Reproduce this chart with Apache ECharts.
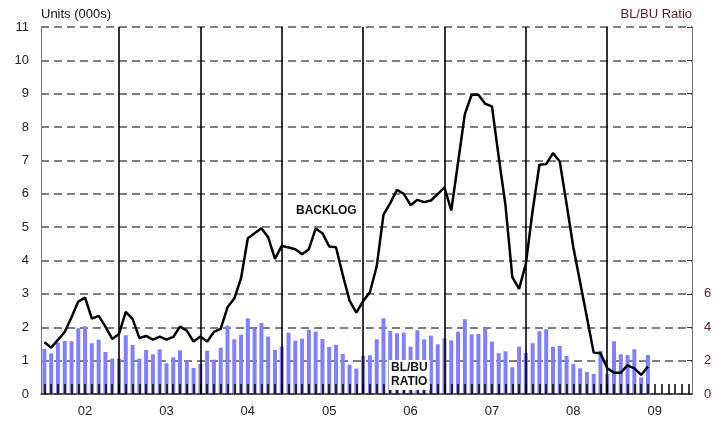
<!DOCTYPE html>
<html>
<head>
<meta charset="utf-8">
<script src="https://cdn.jsdelivr.net/npm/echarts@6/dist/echarts.min.js"></script>
<style>
  html, body { margin: 0; padding: 0; background: #fff; }
  #chart { width: 716px; height: 421px; }
</style>
</head>
<body>
<div id="chart"></div>
<script>
// year labels on the x axis, one per 12 months
var years = ['02', '03', '04', '05', '06', '07', '08', '09'];

// backlog, units (000s), monthly from the first month of 02
var backlog = [
    1.55, 1.39, 1.62, 1.86, 2.30, 2.77, 2.89, 2.26, 2.34, 2.02, 1.65, 1.80,
    2.46, 2.25, 1.68, 1.74, 1.63, 1.72, 1.63, 1.71, 2.02, 1.90, 1.57, 1.72,
    1.57, 1.86, 1.95, 2.60, 2.86, 3.47, 4.67, 4.82, 4.97, 4.70, 4.05, 4.44,
    4.39, 4.34, 4.19, 4.34, 4.96, 4.82, 4.42, 4.40, 3.57, 2.80, 2.44, 2.78,
    3.05, 3.82, 5.37, 5.72, 6.12, 6.00, 5.66, 5.82, 5.75, 5.80, 5.99, 6.19,
    5.50, 6.94, 8.39, 8.97, 8.97, 8.70, 8.62, 7.10, 5.65, 3.50, 3.15, 3.90,
    5.50, 6.87, 6.89, 7.22, 6.97, 5.70, 4.40, 3.35, 2.30, 1.24, 1.22, 0.77,
    0.64, 0.64, 0.86, 0.77, 0.57, 0.82
];

// BL/BU ratio, right axis
var ratio = [
    2.70, 2.44, 3.08, 3.18, 3.16, 3.94, 4.06, 3.04, 3.26, 2.52, 2.12, 2.12,
    3.52, 2.94, 2.12, 2.64, 2.38, 2.68, 1.84, 2.20, 2.62, 1.96, 1.56, 1.80,
    2.60, 2.06, 2.78, 4.10, 3.28, 3.56, 4.54, 3.92, 4.26, 3.44, 2.64, 2.84,
    3.68, 3.20, 3.32, 3.86, 3.74, 3.30, 2.82, 2.94, 2.40, 1.76, 1.52, 2.30,
    2.32, 3.28, 4.54, 3.78, 3.64, 3.68, 2.84, 3.82, 3.28, 3.50, 2.98, 3.34,
    3.22, 3.74, 4.48, 3.58, 3.60, 3.94, 3.14, 2.44, 2.56, 1.60, 2.84, 2.46,
    3.04, 3.76, 3.88, 2.84, 2.88, 2.28, 1.80, 1.54, 1.32, 1.20, 2.60, 1.19,
    3.16, 2.38, 2.34, 2.68, 1.00, 2.34
];

var leftTicks = [0, 11, 1];     // min, max, step
var rightLabels = [0, 2, 4, 6];

var months = [];
for (var y = 0; y < years.length; y++) {
    for (var m = 1; m <= 12; m++) {
        months.push(years[y] + '-' + (m < 10 ? '0' + m : m));
    }
}

// solid vertical dividers at the last month of each year
var dividers = [];
for (var k = 0; k < years.length - 1; k++) {
    dividers.push({ xAxis: months[k * 12 + 11] });
}

var font = '"Liberation Sans", Arial, sans-serif';
var maroon = '#5e1c1c';

var chart = echarts.init(document.getElementById('chart'), null, { renderer: 'canvas' });

var option = {
    animation: false,
    textStyle: { fontFamily: font },
    grid: { left: 41, right: 24, top: 27, bottom: 27, containLabel: false },
    xAxis: {
        type: 'category',
        data: months,
        boundaryGap: true,
        z: 5,
        axisLine: { lineStyle: { color: '#333', width: 1.5 } },
        axisTick: {
            show: true, inside: true, length: 10, alignWithLabel: true, interval: 0,
            lineStyle: { color: '#000', width: 1.5 }
        },
        axisLabel: {
            interval: function (i) { return i % 12 === 6; },
            formatter: function (v) { return v.substr(0, 2); },
            color: '#222', fontSize: 13, margin: 11, fontFamily: font
        },
        splitLine: { show: false }
    },
    yAxis: [
        {
            type: 'value',
            min: leftTicks[0], max: leftTicks[1], interval: leftTicks[2],
            axisLine: { show: true, lineStyle: { color: '#777', width: 1 } },
            axisTick: { show: false },
            axisLabel: { color: '#222', fontSize: 13, margin: 12, fontFamily: font },
            splitLine: { show: true, lineStyle: { color: '#555', width: 1.5, type: [8, 5] } }
        },
        {
            type: 'value',
            position: 'right',
            min: 0, max: 22, interval: 2,
            axisLine: { show: true, lineStyle: { color: '#777', width: 1 } },
            axisTick: { show: true, inside: true, length: 5, lineStyle: { color: '#333' } },
            axisLabel: {
                color: maroon, fontSize: 13, margin: 12, fontFamily: font,
                formatter: function (v) { return rightLabels.indexOf(v) >= 0 ? v : ''; }
            },
            splitLine: { show: false }
        }
    ],
    series: [
        {
            name: 'BL/BU Ratio',
            type: 'bar',
            yAxisIndex: 1,
            data: ratio,
            barWidth: 4,
            itemStyle: { color: '#8080ff' }
        },
        {
            name: 'Backlog',
            type: 'line',
            yAxisIndex: 0,
            data: backlog,
            symbol: 'none',
            lineStyle: { color: '#000', width: 2.5 },
            markLine: {
                silent: true,
                symbol: ['none', 'none'],
                label: { show: false },
                lineStyle: { color: '#000', width: 1.6, type: 'solid' },
                data: dividers
            }
        }
    ],
    graphic: [
        {
            type: 'text', left: 41, top: 8,
            style: { text: 'Units (000s)', fill: '#111', font: '13px ' + font }
        },
        {
            type: 'text', right: 24, top: 8,
            style: { text: 'BL/BU Ratio', fill: maroon, font: '13px ' + font, textAlign: 'right' }
        },
        {
            type: 'text', left: 296, top: 205,
            style: { text: 'BACKLOG', fill: '#111', font: 'bold 12px ' + font }
        },
        {
            type: 'text', left: 389, top: 360, z: 10,
            style: {
                text: 'BL/BU\nRATIO', fill: '#111', font: 'bold 12px ' + font,
                lineHeight: 14, backgroundColor: '#fff', padding: [1, 2, 1, 2]
            }
        }
    ]
};

chart.setOption(option);
</script>
</body>
</html>
